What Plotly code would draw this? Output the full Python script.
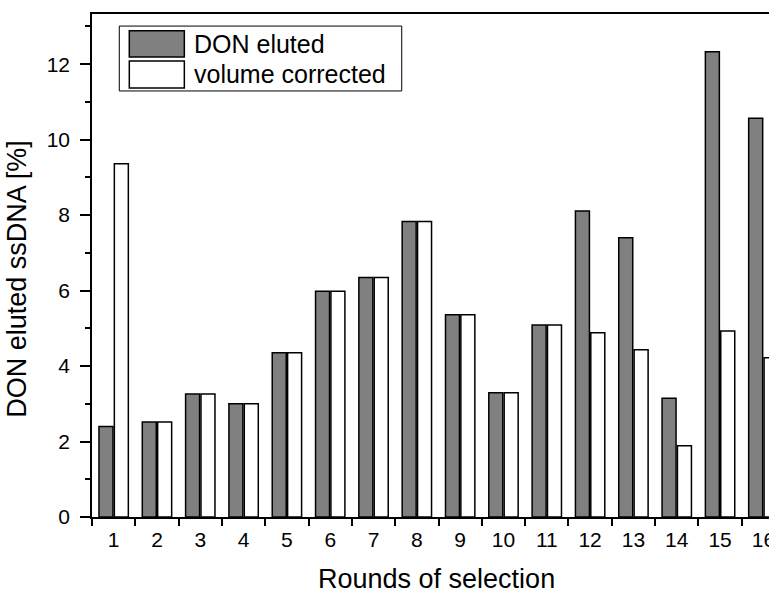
import plotly.graph_objects as go

rounds = [str(i) for i in range(1, 17)]
don_eluted = [2.40, 2.52, 3.26, 3.00, 4.35, 5.98, 6.35, 7.83, 5.36, 3.29, 5.09, 8.11, 7.40, 3.15, 12.33, 10.57]
volume_corrected = [9.36, 2.52, 3.26, 3.00, 4.35, 5.98, 6.35, 7.83, 5.36, 3.29, 5.09, 4.88, 4.43, 1.89, 4.93, 4.22]
series_names = ["DON eluted", "volume corrected"]
x_title = "Rounds of selection"
y_title = "DON eluted ssDNA [%]"
y_ticks = [0, 2, 4, 6, 8, 10, 12]

FONT = "Arial, 'Liberation Sans', sans-serif"

fig = go.Figure()
fig.add_trace(go.Bar(x=rounds, y=don_eluted, name=series_names[0],
                     marker=dict(color="#808080", line=dict(color="black", width=1.5)),
                     showlegend=False))
fig.add_trace(go.Bar(x=rounds, y=volume_corrected, name=series_names[1],
                     marker=dict(color="white", line=dict(color="black", width=1.5)),
                     showlegend=False))

# custom legend (box + swatches + text)
fig.add_shape(type="rect", xref="paper", yref="paper", x0=0.0403, x1=0.4575, y0=0.847, y1=0.976,
              line=dict(color="black", width=1), fillcolor="white", layer="above")
fig.add_shape(type="rect", xref="paper", yref="paper", x0=0.0551, x1=0.1364, y0=0.9146, y1=0.9668,
              line=dict(color="black", width=1.5), fillcolor="#808080", layer="above")
fig.add_shape(type="rect", xref="paper", yref="paper", x0=0.0551, x1=0.1364, y0=0.8530, y1=0.9066,
              line=dict(color="black", width=1.5), fillcolor="white", layer="above")
fig.add_annotation(xref="paper", yref="paper", x=0.1470, y=0.9404, text=series_names[0],
                   showarrow=False, xanchor="left", yanchor="middle",
                   font=dict(family=FONT, size=25, color="black"))
fig.add_annotation(xref="paper", yref="paper", x=0.1470, y=0.8798, text=series_names[1],
                   showarrow=False, xanchor="left", yanchor="middle",
                   font=dict(family=FONT, size=25, color="black"))

# axis titles
fig.add_annotation(xref="paper", yref="paper", x=0.5096, y=-0.124, text=x_title,
                   showarrow=False, xanchor="center", yanchor="middle",
                   font=dict(family=FONT, size=27, color="black"))
fig.add_annotation(xref="paper", yref="paper", x=-0.1108, y=0.4735, text=y_title, textangle=-90,
                   showarrow=False, xanchor="center", yanchor="middle",
                   font=dict(family=FONT, size=27, color="black"))

fig.update_layout(
    width=769, height=591,
    margin=dict(l=92, r=0, t=14, b=74, autoexpand=False),
    paper_bgcolor="white", plot_bgcolor="white",
    barmode="group", bargap=0.29, bargroupgap=0.09,
    font=dict(family=FONT, color="black"),
)
fig.update_xaxes(
    type="category", range=[-0.5, 15.13], automargin=False,
    tickson="boundaries", ticks="outside", ticklen=7, tickwidth=1.5, tickcolor="black",
    showline=True, linecolor="black", linewidth=2, mirror=True,
    showgrid=False, zeroline=False,
    tickfont=dict(size=21, family=FONT, color="black"),
    ticklabelstandoff=3,
)
fig.update_yaxes(
    range=[0, 13.33], tickvals=y_ticks, automargin=False,
    ticks="outside", ticklen=10, tickwidth=1.5, tickcolor="black",
    minor=dict(tickvals=[1, 3, 5, 7, 9, 11, 13], ticks="outside", ticklen=5, tickwidth=1.5, tickcolor="black"),
    showline=True, linecolor="black", linewidth=1.5,
    showgrid=False, zeroline=False,
    tickfont=dict(size=21, family=FONT, color="black"),
    ticklabelstandoff=6,
)

fig.write_html("out.html")
